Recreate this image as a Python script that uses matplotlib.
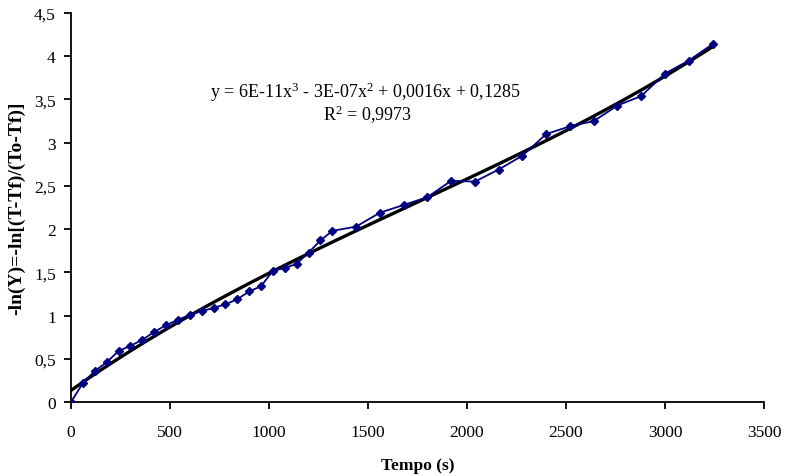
import numpy as np
import matplotlib
matplotlib.use("Agg")
import matplotlib.pyplot as plt
from matplotlib.ticker import FuncFormatter, MultipleLocator

plt.rcParams['font.family'] = ['Liberation Serif', 'DejaVu Serif']
plt.rcParams['mathtext.fontset'] = 'custom'
plt.rcParams['mathtext.rm'] = 'Liberation Serif'
plt.rcParams['mathtext.it'] = 'Liberation Serif:italic'
plt.rcParams['mathtext.default'] = 'regular'

# Data
tempo = [0, 60, 120, 180, 240, 300, 360, 420, 480, 540, 600, 660, 720, 780, 840,
         900, 960, 1020, 1080, 1140, 1200, 1260, 1320, 1440, 1560, 1680, 1800,
         1920, 2040, 2160, 2280, 2400, 2520, 2640, 2760, 2880, 3000, 3120, 3240]
lny = [0.0, 0.22, 0.36, 0.46, 0.59, 0.65, 0.72, 0.81, 0.89, 0.95, 1.01, 1.05, 1.09,
       1.13, 1.19, 1.28, 1.34, 1.52, 1.55, 1.60, 1.73, 1.87, 1.98, 2.03, 2.19, 2.28,
       2.37, 2.56, 2.55, 2.69, 2.85, 3.10, 3.19, 3.25, 3.43, 3.54, 3.80, 3.95, 4.14]
eq_text = "y = 6E-11x$^{3}$ - 3E-07x$^{2}$ + 0,0016x + 0,1285"
r2_text = "R$^{2}$ = 0,9973"

fig = plt.figure(figsize=(7.87, 4.77), dpi=100)
ax = fig.add_axes([0.0902, 0.155, 0.8806, 0.8156])

x = np.array(tempo, dtype=float)
y = np.array(lny, dtype=float)
coef = np.polyfit(x, y, 3)
xf = np.linspace(x.min(), x.max(), 300)
ax.plot(xf, np.polyval(coef, xf), color='black', lw=2.4, zorder=2)
ax.plot(x, y, color='#000080', lw=1.3, marker='D', ms=3.8, mfc='#000080',
        mec='#000080', zorder=3)

ax.set_xlim(0, 3500)
ax.set_ylim(0, 4.5)
ax.xaxis.set_major_locator(MultipleLocator(500))
ax.yaxis.set_major_locator(MultipleLocator(0.5))
ax.yaxis.set_major_formatter(FuncFormatter(lambda v, p: ('%g' % v).replace('.', ',')))
for s in ['top', 'right']:
    ax.spines[s].set_visible(False)
for s in ['left', 'bottom']:
    ax.spines[s].set_linewidth(1.3)
ax.tick_params(direction='out', length=5, width=1.3, labelsize=12.5)
ax.tick_params(axis='x', pad=11)
ax.tick_params(axis='y', pad=6)

ax.set_xlabel('Tempo (s)', fontsize=12.5, fontweight='bold', labelpad=12)
ax.set_ylabel('-ln(Y)=-ln[(T-Tf)/(To-Tf)]', fontsize=14, fontweight='bold', labelpad=6)

ax.text(1485, 3.6, eq_text, ha='center', va='center', fontsize=13)
ax.text(1495, 3.33, r2_text, ha='center', va='center', fontsize=13)

fig.savefig('out.png', dpi=100)
